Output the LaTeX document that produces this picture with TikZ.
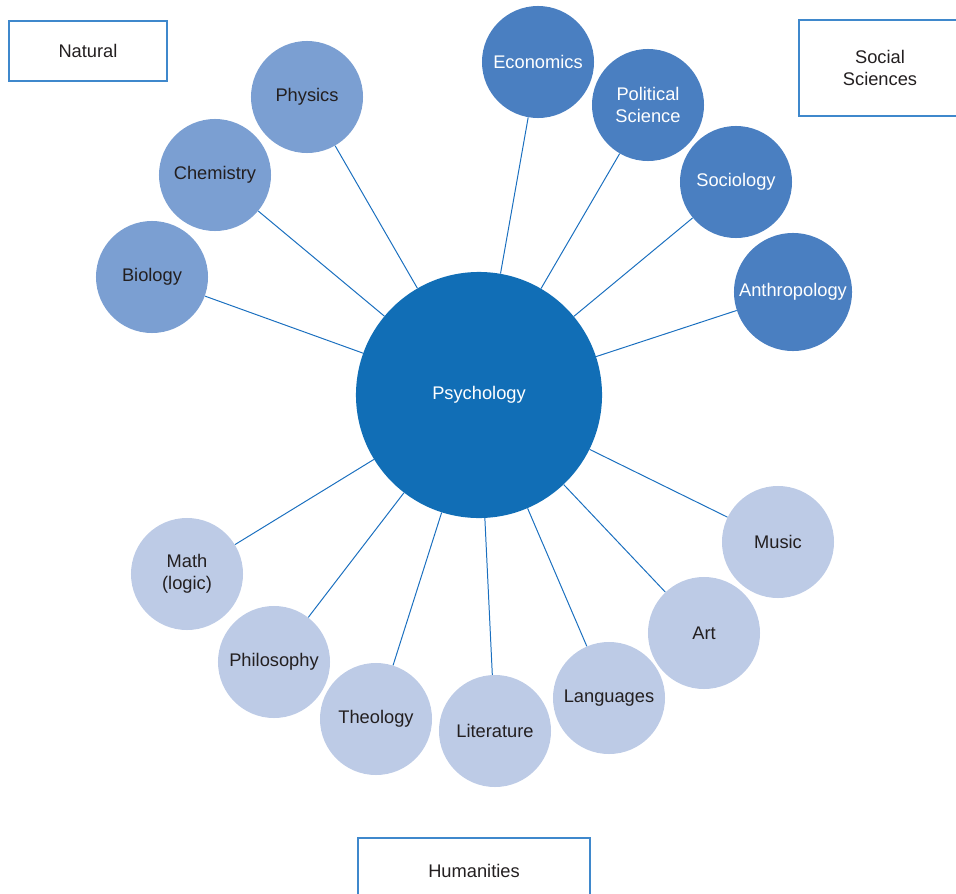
\documentclass[tikz,border=0pt]{standalone}
\usepackage{fontspec}
\setmainfont{Liberation Sans}
\definecolor{psyblue}{HTML}{116EB6}
\definecolor{socblue}{HTML}{4A7FC1}
\definecolor{natblue}{HTML}{7B9FD2}
\definecolor{humblue}{HTML}{BDCBE6}
\definecolor{linkblue}{HTML}{1A6FBF}
\definecolor{boxblue}{HTML}{3F88CC}
\definecolor{ink}{HTML}{231F20}
\begin{document}
\begin{tikzpicture}[x=0.025cm,y=-0.025cm,
    font=\fontsize{13}{15.5}\selectfont,
    field/.style={circle,inner sep=0pt,minimum size=2.8cm,align=center},
    natfield/.style={field,fill=natblue,text=ink},
    socfield/.style={field,fill=socblue,text=white},
    humfield/.style={field,fill=humblue,text=ink},
    groupbox/.style={draw=boxblue,line width=0.9pt,text=ink,align=center},
    link/.style={linkblue,line width=0.7pt}]
    \useasboundingbox (0,0) rectangle (956,894);
    % group labels
    \node[groupbox,minimum width=3.95cm,minimum height=1.5cm] (natural) at (88,51) {Natural};
    \node[groupbox,minimum width=4.05cm,minimum height=2.4cm] (social) at (880,68) {Social\\Sciences};
    \node[groupbox,minimum width=5.8cm,minimum height=1.65cm] (humanities) at (474,871) {Humanities};
    % centre
    \node[field,minimum size=6.15cm,fill=psyblue,text=white] (psy) at (479,395) {Psychology};
    % natural sciences
    \node[natfield] (phys) at (307,97) {Physics};
    \node[natfield] (chem) at (215,175) {Chemistry};
    \node[natfield] (bio) at (152,277) {Biology};
    % social sciences
    \node[socfield] (econ) at (538,62) {Economics};
    \node[socfield] (polsci) at (648,105) {Political\\Science};
    \node[socfield] (soc) at (736,182) {Sociology};
    \node[socfield,minimum size=2.95cm] (anth) at (793,292) {Anthropology};
    % humanities
    \node[humfield] (math) at (187,574) {Math\\(logic)};
    \node[humfield] (philo) at (274,662) {Philosophy};
    \node[humfield] (theo) at (376,719) {Theology};
    \node[humfield] (lit) at (495,731) {Literature};
    \node[humfield] (lang) at (609,698) {Languages};
    \node[humfield] (art) at (704,633) {Art};
    \node[humfield] (music) at (778,542) {Music};
    % spokes
    \foreach \f in {phys,chem,bio,econ,polsci,soc,anth,math,philo,theo,lit,lang,art,music}
        \draw[link] (psy) -- (\f);
\end{tikzpicture}
\end{document}
